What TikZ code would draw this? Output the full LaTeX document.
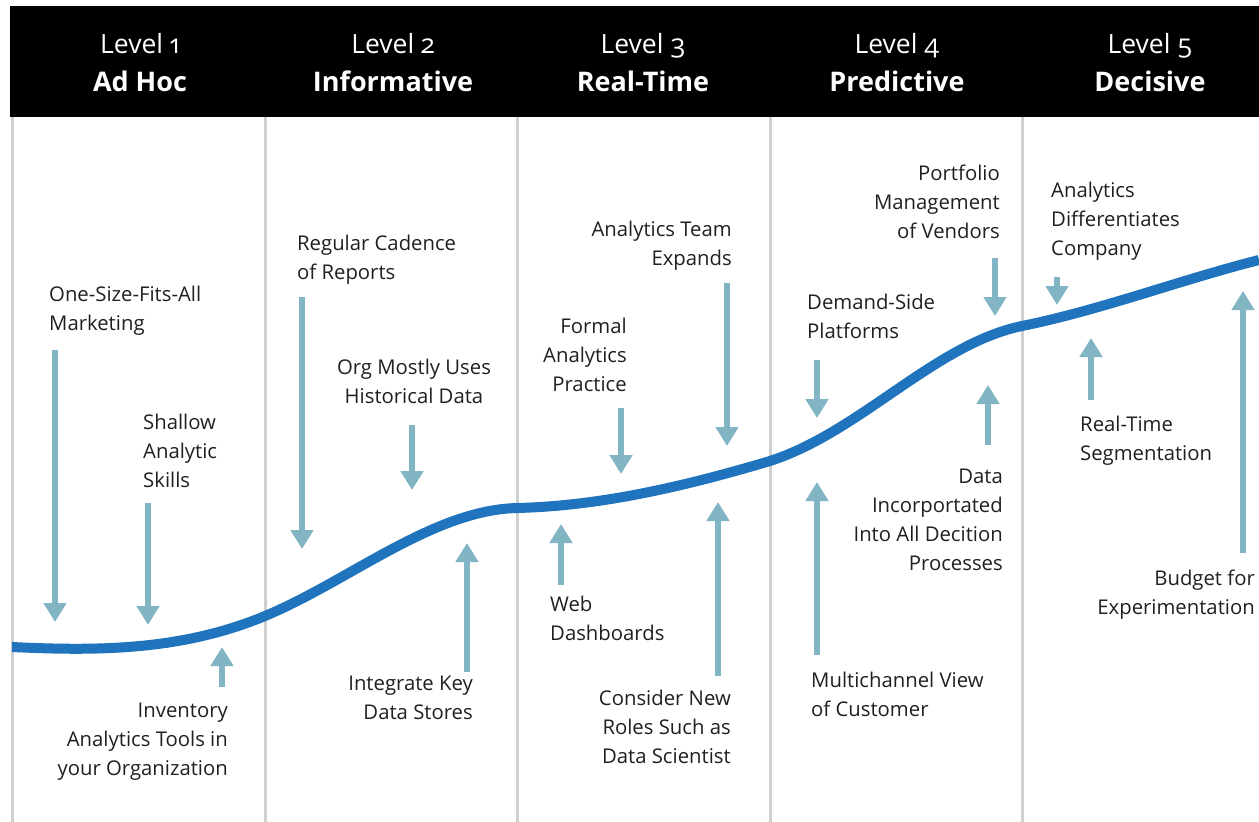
\documentclass[tikz,border=0pt]{standalone}
\usepackage{fontspec}
\setmainfont{Open Sans}[Numbers=OldStyle]
\usetikzlibrary{arrows.meta}
\definecolor{curveblue}{HTML}{1F74BD}
\definecolor{arrowblue}{HTML}{82B5C4}
\definecolor{sepgray}{HTML}{D0D0D0}
\definecolor{txt}{HTML}{231F20}
\tikzset{
  sep/.style={draw=sepgray, line width=3pt},
  pt/.style={draw=arrowblue, line width=5.5pt, -{Triangle[length=19pt,width=22pt]}},
  lbl/.style={inner sep=0pt, text=txt, font=\fontsize{20.3}{29}\selectfont},
  lvl/.style={inner sep=0pt, text=white, font=\fontsize{26.5}{30}\selectfont},
  lvlb/.style={inner sep=0pt, text=white, font=\fontsize{27}{32}\selectfont\bfseries},
  growth/.style={draw=curveblue, line width=10pt},
}
\begin{document}
\begin{tikzpicture}[x=1pt,y=-1pt]
\useasboundingbox (0,0) rectangle (1259,822);
\fill[white] (0,0) rectangle (1259,822);
% header
\fill[black] (10,6) rectangle (1259,117);
% separators
\foreach \xx in {12,265,517,770,1022} { \draw[sep] (\xx,117) -- (\xx,822); }
% header texts
\node[lvl, anchor=base] (l1a) at (140,53) {Level 1};
\node[lvlb, anchor=base] (l1b) at (140,91) {Ad Hoc};
\node[lvl, anchor=base] (l2a) at (393,53) {Level 2};
\node[lvlb, anchor=base] (l2b) at (393,91) {Informative};
\node[lvl, anchor=base] (l3a) at (643,53) {Level 3};
\node[lvlb, anchor=base] (l3b) at (643,91) {Real-Time};
\node[lvl, anchor=base] (l4a) at (897,53) {Level 4};
\node[lvlb, anchor=base] (l4b) at (897,91) {Predictive};
\node[lvl, anchor=base] (l5a) at (1150,53) {Level 5};
\node[lvlb, anchor=base] (l5b) at (1150,91) {Decisive};
% curve
\draw[growth] (12,647) .. controls (96,651) and (181,651) .. (265,616)
  .. controls (349,581) and (433,510) .. (517,508)
  .. controls (601,506) and (686,486) .. (770,461)
  .. controls (860,432) and (935,344) .. (1022,326)
  .. controls (1101,310) and (1180,280) .. (1259,260);
% labels (base anchor = baseline of last line)
\node[lbl, anchor=base west, align=left] (t1) at (49,330) {One-Size-Fits-All\\Marketing};
\node[lbl, anchor=base west, align=left] (t2) at (143,487) {Shallow\\Analytic\\Skills};
\node[lbl, anchor=base east, align=right] (t3) at (228,775) {Inventory\\Analytics Tools in\\your Organization};
\node[lbl, anchor=base west, align=left] (t4) at (297,279) {Regular Cadence\\of Reports};
\node[lbl, anchor=base, align=center] (t5) at (414,403) {Org Mostly Uses\\Historical Data};
\node[lbl, anchor=base east, align=right] (t6) at (473,719) {Integrate Key\\Data Stores};
\node[lbl, anchor=base east, align=right] (t7) at (732,265) {Analytics Team\\Expands};
\node[lbl, anchor=base east, align=right] (t8) at (627,391) {Formal\\Analytics\\Practice};
\node[lbl, anchor=base west, align=left] (t9) at (550,640) {Web\\Dashboards};
\node[lbl, anchor=base east, align=right] (t10) at (731,763) {Consider New\\Roles Such as\\Data Scientist};
\node[lbl, anchor=base east, align=right] (t11) at (1000,238) {Portfolio\\Management\\of Vendors};
\node[lbl, anchor=base west, align=left] (t12) at (807,338) {Demand-Side\\Platforms};
\node[lbl, anchor=base east, align=right] (t13) at (1003,570) {Data\\Incorportated\\Into All Decition\\Processes};
\node[lbl, anchor=base west, align=left] (t14) at (811,716) {Multichannel View\\of Customer};
\node[lbl, anchor=base west, align=left] (t15) at (1051,255) {Analytics\\Differentiates\\Company};
\node[lbl, anchor=base west, align=left] (t16) at (1080,460) {Real-Time\\Segmentation};
\node[lbl, anchor=base east, align=right] (t17) at (1255,614) {Budget for\\Experimentation};
% arrow coordinates
\coordinate (a1s) at (55,350);   \coordinate (a1e) at (55,622);
\coordinate (a2s) at (148,503);  \coordinate (a2e) at (148,625);
\coordinate (a3s) at (222,687);  \coordinate (a3e) at (222,647);
\coordinate (a4s) at (302,297);  \coordinate (a4e) at (302,549);
\coordinate (a5s) at (412,425);  \coordinate (a5e) at (412,490);
\coordinate (a6s) at (467,672);  \coordinate (a6e) at (467,543);
\coordinate (a7s) at (727,283);  \coordinate (a7e) at (727,446);
\coordinate (a8s) at (621,408);  \coordinate (a8e) at (621,474);
\coordinate (a9s) at (561,585);  \coordinate (a9e) at (561,524);
\coordinate (a10s) at (718,676); \coordinate (a10e) at (718,502);
\coordinate (a11s) at (995,258); \coordinate (a11e) at (995,316);
\coordinate (a12s) at (817,360); \coordinate (a12e) at (817,418);
\coordinate (a13s) at (988,445); \coordinate (a13e) at (988,385);
\coordinate (a14s) at (817,655); \coordinate (a14e) at (817,482);
\coordinate (a15s) at (1057,277); \coordinate (a15e) at (1057,305);
\coordinate (a16s) at (1091,400); \coordinate (a16e) at (1091,338);
\coordinate (a17s) at (1243,553); \coordinate (a17e) at (1243,291);
\foreach \i in {1,...,17} { \draw[pt] (a\i s) -- (a\i e); }
\end{tikzpicture}
\end{document}
